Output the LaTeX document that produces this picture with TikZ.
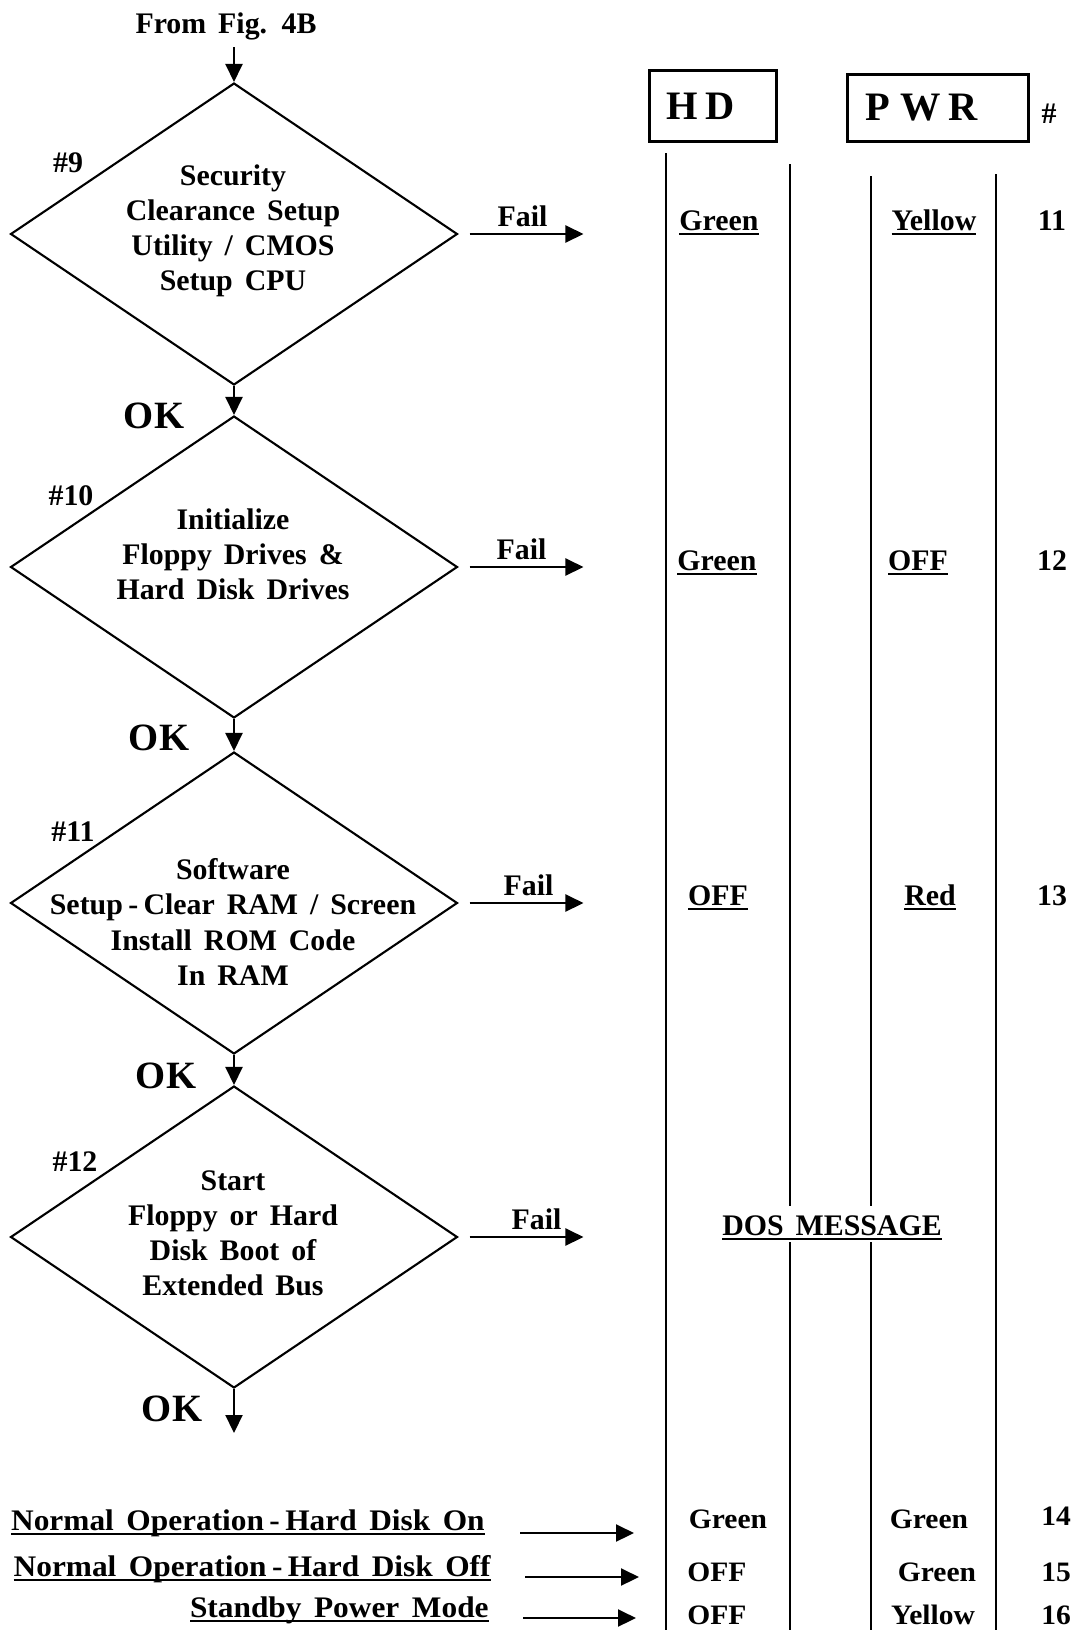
\documentclass[tikz,border=0pt]{standalone}
\usepackage{fontspec}
\setmainfont{Liberation Serif}[WordSpace=1.6]
\newfontfamily\largafont{Liberation Serif}[WordSpace=1.6, FakeStretch=1.05]
\usepackage{tikz}
\usetikzlibrary{arrows.meta,positioning,shapes.geometric}
\newcommand{\sublinha}[1]{\setbox0\hbox{#1}\leavevmode\rlap{\rule[-0.16em]{\wd0}{0.07em}}\box0}
\newcommand{\hif}{\hspace{.18em}-\hspace{.18em}}

\tikzset{
  losango/.style={draw, diamond, line width=1.2pt, minimum width=8.94cm, minimum height=6.04cm, inner sep=0pt},
  texto/.style={font=\fontsize{17}{20}\selectfont\bfseries, align=center, inner sep=0pt},
  textook/.style={font=\fontsize{22}{24}\selectfont\bfseries, inner sep=0pt},
  textolargo/.style={font=\largafont\fontsize{16}{18}\selectfont\bfseries, inner sep=0pt},
  textomodo/.style={font=\largafont\fontsize{17}{20}\selectfont\bfseries, inner sep=0pt},
  seta/.style={line width=1.2pt, -{Triangle[length=0.36cm, width=0.34cm]}},
  caixa/.style={draw, line width=1.6pt, font=\fontsize{23}{26}\selectfont\bfseries, align=left, inner ysep=0pt},
  linha/.style={line width=1.3pt}
}

\begin{document}
\begin{tikzpicture}[x=0.02cm, y=-0.02cm]
        % Área da figura
        \useasboundingbox (0,0) rectangle (1078,1630);
        % Entrada
        \node[texto] (de) at (226,26) {From Fig. 4B};
        % Losangos das etapas
        \node[losango] (d9) at (234,234) {};
        \node[losango] (d10) at (234,567) {};
        \node[losango] (d11) at (234,903) {};
        \node[losango] (d12) at (234,1237) {};
        % Textos dos losangos
        \node[texto] (t9) at (233,231) {Security\\Clearance Setup\\Utility / CMOS\\Setup CPU};
        \node[texto] (t10) at (233,554) {Initialize\\Floppy Drives \&\\Hard Disk Drives};
        \node[texto] (t11) at (233,922) {Software\\Setup\hif Clear RAM / Screen\\Install ROM Code\\In RAM};
        \node[texto] (t12) at (233,1233) {Start\\Floppy or Hard\\Disk Boot of\\Extended Bus};
        % Números das etapas
        \node[texto] (n9) at (68,163) {\#9};
        \node[texto] (n10) at (71,496) {\#10};
        \node[texto] (n11) at (73,832) {\#11};
        \node[texto] (n12) at (75,1162) {\#12};
        % Fluxo principal
        \draw[seta, shorten <=4pt] (d9.north |- de.south) -- (d9.north);
        \draw[seta] (d9.south) -- (d10.north);
        \draw[seta] (d10.south) -- (d11.north);
        \draw[seta] (d11.south) -- (d12.north);
        \coordinate (fim) at (234,1433);
        \draw[seta] (d12.south) -- (fim);
        \node[textook] (ok9) at (154,416) {OK};
        \node[textook] (ok10) at (159,738) {OK};
        \node[textook] (ok11) at (166,1076) {OK};
        \node[textook] (ok12) at (172,1409) {OK};
        % Saídas de falha
        \foreach \n/\dx in {9/64,10/63,11/70,12/78}{
            \coordinate (f\n) at ([xshift=2.5cm]d\n.east);
            \draw[seta] ([xshift=0.22cm]d\n.east) -- (f\n);
            \node[texto, anchor=base] (fail\n) at ([xshift=\dx*0.02cm, yshift=0.16cm]d\n.east) {Fail};
        }
        % Cabeçalho da tabela
        \node[caixa, minimum width=2.54cm, minimum height=1.42cm, text width=1.88cm, inner xsep=0.33cm] (hd) at (713,106) {H\hspace{.2em}D};
        \node[caixa, minimum width=3.62cm, minimum height=1.34cm, text width=2.9cm, inner xsep=0.36cm] (pwr) at (938,108) {P\hspace{.25em}W\hspace{.2em}R};
        \node[texto] (cab) at (1049,114) {\#};
        % Linhas das colunas
        \draw[linha] (666,153) -- (666,1630);
        \draw[linha] (790,164) -- (790,1206) (790,1242) -- (790,1630);
        \draw[linha] (871,176) -- (871,1206) (871,1242) -- (871,1630);
        \draw[linha] (996,174) -- (996,1630);
        % Estados das falhas
        \foreach \hd/\xh/\pw/\xp/\n/\y in {Green/719/Yellow/934/11/230, Green/717/OFF/918/12/570, OFF/718/Red/930/13/905}{
            \node[texto, anchor=base] (hd\n) at (\xh,\y) {\sublinha{\hd}};
            \node[texto, anchor=base] (pw\n) at (\xp,\y) {\sublinha{\pw}};
            \node[texto, anchor=base] (num\n) at (1052,\y) {\n};
        }
        \node[texto, anchor=base] (dos) at (832,1235) {\sublinha{DOS MESSAGE}};
        % Modos de operação
        \node[textomodo, anchor=base east] (m14) at (485,1530) {\sublinha{Normal Operation\hif Hard Disk On}};
        \node[textomodo, anchor=base east] (m15) at (491,1576) {\sublinha{Normal Operation\hif Hard Disk Off}};
        \node[textomodo, anchor=base east] (m16) at (489,1617) {\sublinha{Standby Power Mode}};
        \foreach \n/\xa/\xb/\y in {14/520/634/1533, 15/525/639/1577, 16/523/636/1618}{
            \coordinate (s\n) at (\xa,\y);
            \coordinate (e\n) at (\xb,\y);
            \draw[seta] (s\n) -- (e\n);
        }
        \foreach \hd/\xh/\pw/\xp/\n/\y/\yn in {Green/728/Green/929/14/1528/1525, OFF/717/Green/937/15/1581/1581, OFF/717/Yellow/933/16/1624/1624}{
            \node[textolargo, anchor=base] (hd\n) at (\xh,\y) {\hd};
            \node[textolargo, anchor=base] (pw\n) at (\xp,\y) {\pw};
            \node[textolargo, anchor=base] (num\n) at (1056,\yn) {\n};
        }
\end{tikzpicture}
\end{document}
